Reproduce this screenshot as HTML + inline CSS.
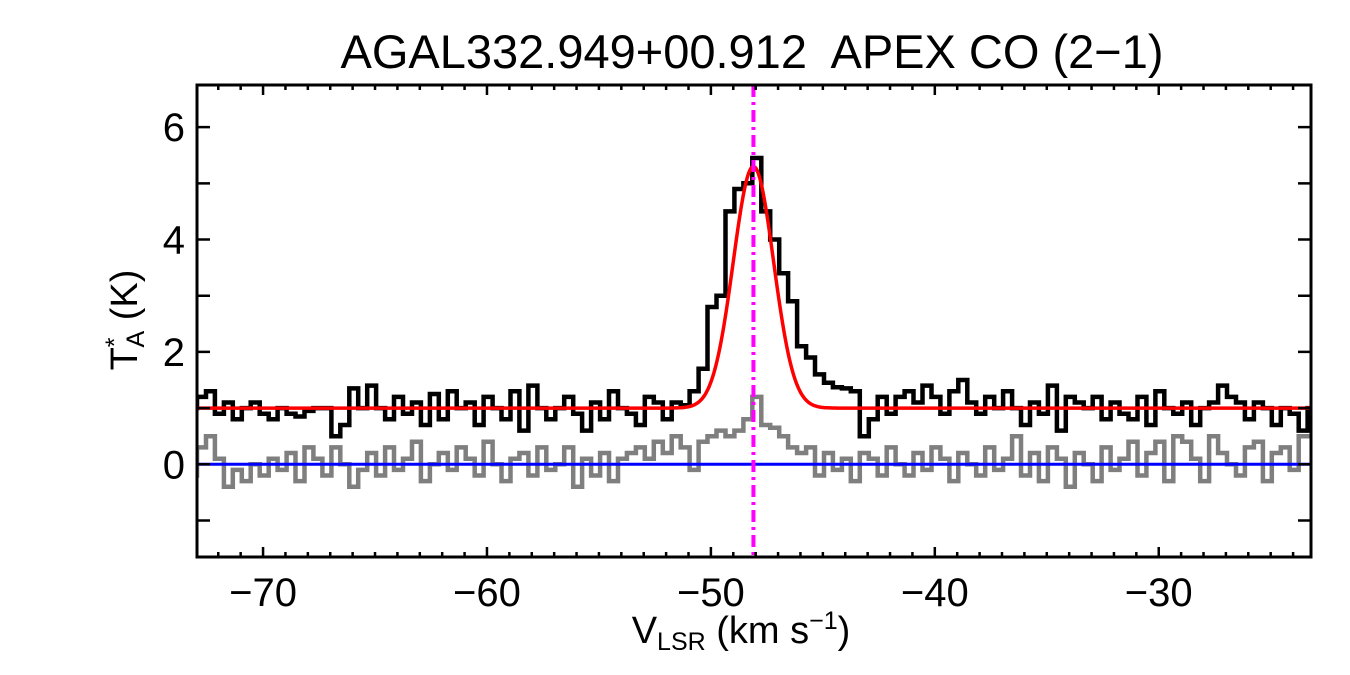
<!DOCTYPE html>
<html><head><meta charset="utf-8"><style>
html,body{margin:0;padding:0;background:#fff;}
svg{display:block;font-family:"Liberation Sans",sans-serif;}
</style></head><body>
<svg id="chart" width="1350" height="675" viewBox="0 0 1350 675" xmlns="http://www.w3.org/2000/svg">
<defs><clipPath id="clip"><rect x="197" y="85" width="1114" height="472"/></clipPath></defs>
<text x="752" y="68" font-size="47" text-anchor="middle" xml:space="preserve">AGAL332.949+00.912  APEX CO (2−1)</text>
<g id="plot"></g>
<text x="741" y="643" font-size="38" text-anchor="middle">V<tspan font-size="25" dy="7">LSR</tspan><tspan dy="-7"> (km s</tspan><tspan font-size="25" dy="-14">−1</tspan><tspan dy="14">)</tspan></text>
<text transform="translate(137,320) rotate(-90)" font-size="38" text-anchor="middle">T<tspan font-size="25" dy="-14">*</tspan><tspan font-size="25" dx="-10" dy="21">A</tspan><tspan dy="-7"> (K)</tspan></text>
</svg>
<script>
const v0 = -73.35, dv = 0.4;
const black = [1.0,1.2,1.3,0.9,1.1,0.8,1.0,1.1,0.9,0.8,
1.0,0.9,0.85,0.95,1.0,1.0,0.5,0.7,1.35,1.0,
1.4,1.0,0.8,1.2,0.9,1.1,0.7,1.25,0.8,1.3,
1.0,1.1,0.7,1.2,1.0,0.8,1.3,0.6,1.4,1.0,
0.8,1.0,1.2,0.9,0.6,1.1,0.8,1.3,1.0,0.9,
0.7,1.2,1.1,0.8,1.1,1.05,1.3,1.7,2.8,3.0,
4.5,4.9,5.0,5.45,4.5,4.0,3.4,2.9,2.1,1.9,
1.6,1.45,1.37,1.35,1.3,0.5,0.8,1.2,0.9,1.2,
1.3,1.1,1.4,1.2,0.9,1.3,1.5,1.1,0.9,1.2,
1.0,1.3,1.0,0.7,1.1,0.9,1.4,0.6,1.2,1.1,
1.0,1.2,0.8,1.1,0.9,0.8,1.2,0.7,1.3,1.0,
0.9,1.1,0.7,1.0,1.1,1.4,1.2,1.1,0.8,1.1,
1.0,0.7,1.0,0.9,0.6,1.0];
const gray = [-0.2,0.3,0.5,0.1,-0.4,-0.1,-0.3,0.0,-0.2,0.1,
-0.1,0.2,-0.3,0.3,0.1,-0.2,0.3,0.0,-0.4,-0.1,
0.2,-0.2,0.3,-0.1,0.1,0.4,-0.3,0.0,0.2,-0.1,
0.3,0.1,-0.2,0.4,0.0,-0.3,0.1,0.2,-0.2,0.3,
-0.1,0.0,0.3,-0.4,0.1,-0.2,0.2,-0.3,0.1,0.2,
0.3,0.1,0.4,0.2,0.5,0.3,-0.1,0.4,0.5,0.6,
0.5,0.6,0.8,1.2,0.7,0.65,0.5,0.3,0.2,0.3,
-0.2,0.2,-0.1,0.1,-0.3,0.2,0.1,-0.2,0.3,0.0,
-0.2,0.2,-0.1,0.3,0.1,-0.3,0.2,0.0,-0.2,0.3,
-0.1,0.1,0.5,-0.2,0.2,-0.3,0.3,0.1,-0.4,0.2,
0.0,-0.3,0.3,-0.1,0.1,0.4,-0.2,0.2,0.4,-0.3,
0.5,0.4,0.1,-0.3,0.5,0.2,0.0,-0.2,0.3,0.4,
-0.3,0.2,0.3,-0.1,0.5,0.5];
const fitAmp = [4.3], fitCenter = [-48.1], fitSigma = [0.9], fitBase = [1.0];
const xTicks = [-70,-60,-50,-40,-30];
const yTicks = [0,2,4,6];

const L=197,R=1311,T=85,B=557, xmin=-72.95, xmax=-23.2, ymin=-1.65, ymax=6.75;
const X=v=>L+(v-xmin)/(xmax-xmin)*(R-L);
const Y=t=>B-(t-ymin)/(ymax-ymin)*(B-T);
const NS="http://www.w3.org/2000/svg";
const g=document.getElementById('plot');
function mk(tag,attrs){const e=document.createElementNS(NS,tag);for(const k in attrs)e.setAttribute(k,attrs[k]);g.appendChild(e);return e;}
function stepPath(arr){let d='';arr.forEach((t,i)=>{const a=X(v0+i*dv),b=X(v0+(i+1)*dv),y=Y(t);d+=(i?'L':'M')+a.toFixed(1)+','+y.toFixed(1)+'L'+b.toFixed(1)+','+y.toFixed(1);});return d;}
let e;
e=mk('path',{d:stepPath(gray),fill:'none',stroke:'#7f7f7f','stroke-width':4.5,'clip-path':'url(#clip)'});


e=mk('path',{d:stepPath(black),fill:'none',stroke:'#000','stroke-width':4.5,'clip-path':'url(#clip)'});


let fd='';for(let px=L;px<=R;px+=1){const v=xmin+(px-L)/(R-L)*(xmax-xmin);const t=fitBase[0]+fitAmp[0]*Math.exp(-0.5*Math.pow((v-fitCenter[0])/fitSigma[0],2));fd+=(px===L?'M':'L')+px+','+Y(t).toFixed(1);}
e=mk('path',{d:fd,fill:'none',stroke:'#ff0000','stroke-width':3.5});


e=mk('line',{x1:L,x2:R,y1:Y(0),y2:Y(0),stroke:'#0000ff','stroke-width':3});


e=mk('line',{x1:X(fitCenter[0]),x2:X(fitCenter[0]),y1:T,y2:B,stroke:'#ff00ff','stroke-width':4,'stroke-dasharray':'12,5,3,5'});


e=mk('rect',{x:L,y:T,width:R-L,height:B-T,fill:'none',stroke:'#000','stroke-width':3});


for(let v=-72;v<=-24;v+=1){const x=X(v),maj=xTicks.includes(v),len=maj?10:5;
 e=mk('path',{d:`M${x},${B}V${B-len}M${x},${T}V${T+len}`,stroke:'#000','stroke-width':2.5});
 
 }
xTicks.forEach(v=>{e=mk('text',{x:X(v),y:B+49,'font-size':40,'text-anchor':'middle'});e.textContent=(v<0?'−':'')+Math.abs(v);
 
 });
for(let t=-1;t<=6;t+=1){const y=Y(t),len=13;
 e=mk('path',{d:`M${L},${y}H${L+len}M${R},${y}H${R-len}`,stroke:'#000','stroke-width':2.5});
 
 }
yTicks.forEach(t=>{e=mk('text',{x:L-12,y:Y(t)+14,'font-size':40,'text-anchor':'end'});e.textContent=t;
 
 });
</script>
</body></html>
